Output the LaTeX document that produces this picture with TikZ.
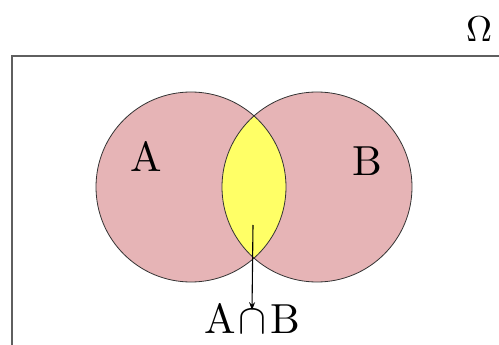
\documentclass[tikz,border=0pt]{standalone}
\usetikzlibrary{arrows.meta,positioning}
\definecolor{setpink}{RGB}{230,180,182}
\definecolor{lensyellow}{RGB}{255,255,102}
\definecolor{framegray}{RGB}{95,95,95}

\begin{document}
\begin{tikzpicture}[x=1pt,y=-1pt,>=Stealth,
  setlabel/.style={scale=4.2, inner sep=0pt},
  circ/.style={draw=black!80, line width=0.8pt}]
  \useasboundingbox (0,0) rectangle (499,345);
  % universe frame
  \draw[line width=1.6pt, framegray] (12,345) -- (12,56) -- (499,56);
  \node[scale=3.6, inner sep=0pt] (omega) at (479,29) {$\Omega$};
  % the two sets
  \fill[setpink] (191,187) circle (95pt);
  \fill[setpink] (317,187) circle (95pt);
  \begin{scope}
    \clip (191,187) circle (95pt);
    \fill[lensyellow] (317,187) circle (95pt);
  \end{scope}
  \draw[circ] (191,187) circle (95pt);
  \draw[circ] (317,187) circle (95pt);
  \node[setlabel] (labA) at (146,156) {A};
  \node[setlabel] (labB) at (367,161) {B};
  % intersection
  \coordinate (lens) at (253,225);
  \node[setlabel] (labAB) at (252,318) {A\kern0.8pt$\cap$\kern0.8pt B};
  \draw[->, line width=1.1pt] (lens) -- ([yshift=-8pt]labAB.north);
\end{tikzpicture}
\end{document}
